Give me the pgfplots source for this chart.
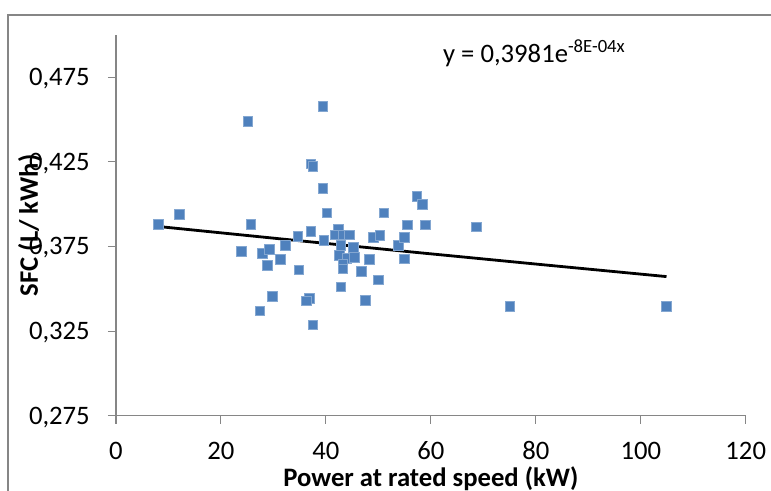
\documentclass[border=0pt]{standalone}
\usepackage{fontspec}
\setmainfont{Carlito}
\usepackage{pgfplots}
\pgfplotsset{compat=1.18}
\definecolor{excelblue}{HTML}{4F81BD}
\definecolor{axisgray}{HTML}{868686}
\begin{document}
\begin{tikzpicture}
\begin{axis}[
  name=ax,
  at={(0,0)}, anchor=south west,
  scale only axis,
  width=472.3pt, height=285.5pt,
  xmin=0, xmax=120, ymin=0.275, ymax=0.5,
  xtick={0,20,...,120},
  ytick={0.275,0.325,0.375,0.425,0.475},
  axis x line*=bottom, axis y line*=left,
  axis line style={axisgray, line width=0.8pt, -},
  tick style={axisgray, line width=0.8pt},
  tick align=outside,
  major tick length=6pt,
  /pgf/number format/assume math mode=true,
  yticklabel style={/pgf/number format/fixed, /pgf/number format/fixed zerofill, /pgf/number format/precision=3, /pgf/number format/use comma},
  tick label style={font=\fontsize{20}{24}\selectfont},
  xticklabel style={anchor=base, inner sep=0pt, yshift=-26.7pt},
  yticklabel style={anchor=base east, inner sep=0pt, xshift=-13.5pt, yshift=-6.3pt},
  xlabel={Power at rated speed (kW)},
  ylabel={SFC (L/ kWh)},
  label style={font=\fontsize{20}{24}\selectfont\bfseries},
  xlabel style={at={([yshift=-53.5pt]axis description cs:0.5,0)}, anchor=base, inner sep=0pt},
  ylabel style={at={([xshift=-64.5pt]axis description cs:0,0.5)}, anchor=center, inner sep=0pt},
  clip=false,
]
\addplot[only marks, mark=square*, mark size=3.6pt, mark options={fill=excelblue, draw=excelblue!70!white, line width=0.4pt}] coordinates {
(8.1,0.388) (12.1,0.394) (25.1,0.449) (25.7,0.388) (39.4,0.458)
(37.1,0.424) (37.5,0.4225) (39.4,0.4095) (40.2,0.395) (37.1,0.384)
(34.6,0.381) (39.6,0.3785) (42.4,0.3855)
(23.9,0.372) (27.9,0.371) (29.2,0.3734) (28.8,0.3638) (31.3,0.3673)
(32.3,0.3756) (34.8,0.3612) (29.8,0.3456) (27.4,0.3371) (36.8,0.3444)
(36.2,0.343) (37.5,0.3287)
(41.7,0.382) (43.3,0.382) (44.5,0.382) (42.8,0.3756) (45.2,0.3746)
(42.6,0.3697) (44.0,0.368) (45.4,0.3687) (43.2,0.3648) (43.2,0.3618)
(48.3,0.3673) (46.7,0.3602) (50.0,0.3553) (42.8,0.3512) (47.5,0.3432)
(51.0,0.395) (49.0,0.3805) (50.3,0.3815) (53.8,0.3756) (54.9,0.3805)
(55.5,0.3878) (54.9,0.3677) (57.3,0.4048) (58.4,0.3998) (58.9,0.3878)
(68.6,0.3866) (75.0,0.3395) (104.9,0.3395)
};
\addplot[black, line width=2.1pt, no marks] coordinates {
(8.1,0.3868) (32.3,0.3792) (56.5,0.3717) (80.7,0.3644) (104.9,0.3572)
};
\node[anchor=base west, inner sep=0pt, font=\fontsize{20}{24}\selectfont] at (rel axis cs:0.519,0.927) {y = 0,3981e\textsuperscript{-8E-04x}};
\end{axis}
\draw[axisgray, line width=0.8pt] (-81pt,-60pt) -- (-81pt,300.5pt) -- (500pt,300.5pt);
\pgfresetboundingbox
\path[use as bounding box] (-87pt,-56.5pt) rectangle (491.25pt,311.75pt);
\end{tikzpicture}
\end{document}
